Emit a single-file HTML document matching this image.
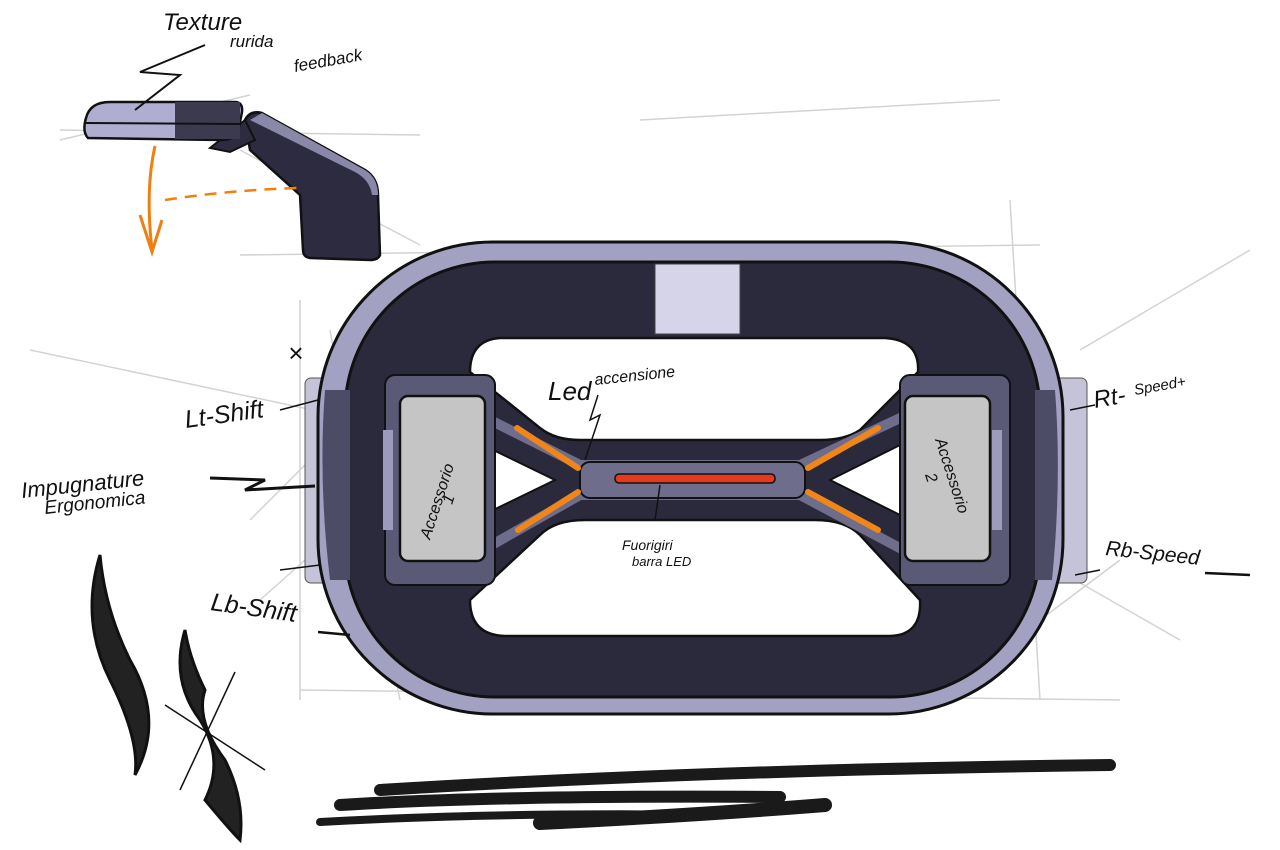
<!DOCTYPE html>
<html><head><meta charset="utf-8"><style>
html,body{margin:0;padding:0;background:#fff;}
svg{display:block}
text{font-family:"Liberation Sans",sans-serif;fill:#111;font-style:italic}
</style></head><body>
<svg width="1280" height="850" viewBox="0 0 1280 850" xmlns="http://www.w3.org/2000/svg">
<rect width="1280" height="850" fill="#fff"/>
<g stroke="#c8c8c8" stroke-width="1.5" fill="none" opacity="0.8">
<path d="M60 130 L420 135"/><path d="M60 140 L250 95"/><path d="M240 150 L420 245"/>
<path d="M240 255 L1040 245"/><path d="M300 690 L1120 700"/><path d="M1010 200 L1040 700"/>
<path d="M330 330 L400 700"/><path d="M30 350 L360 420"/><path d="M1080 350 L1250 250"/>
<path d="M250 520 L340 430"/><path d="M260 600 L350 520"/><path d="M1040 560 L1180 640"/>
<path d="M1040 620 L1120 560"/><path d="M640 120 L1000 100"/><path d="M300 300 L300 700"/>
</g>
<path d="M245 120 Q250 110 262 113 L365 170 Q378 178 378 195 L380 255 Q378 260 370 260 L310 258 Q303 257 303 250 L300 195 L250 150 Z" fill="#2c2b40" stroke="#111" stroke-width="2.5"/>
<path d="M262 113 L365 170 Q378 178 378 195 L372 195 Q370 180 355 172 L250 120 Z" fill="#8a88a8"/>
<path d="M210 148 L245 120 L255 140 L230 152 Z" fill="#2c2b40" stroke="#111" stroke-width="2"/>
<path d="M86 118 Q90 102 110 102 L236 102 Q243 103 242 112 L238 132 Q233 140 222 140 L88 138 Q82 132 86 118 Z" fill="#b0aed0" stroke="#111" stroke-width="2.5"/>
<rect x="175" y="102" width="65" height="37" fill="#3b3a4e"/>
<path d="M86 123 L240 124" stroke="#111" stroke-width="2"/>
<path d="M155 146 Q145 190 152 250" stroke="#f07f10" stroke-width="3" fill="none"/>
<path d="M140 215 L152 252 L162 220" stroke="#f07f10" stroke-width="3" fill="none"/>
<path d="M165 200 Q230 190 298 188" stroke="#f07f10" stroke-width="2.5" stroke-dasharray="12 8" fill="none"/>
<path d="M135 110 L180 75 L140 72 L205 45" stroke="#111" stroke-width="2" fill="none"/>
<text x="163" y="30" font-size="24">Texture</text>
<text x="230" y="47" font-size="17">rurida</text>
<text x="295" y="72" font-size="17" transform="rotate(-10 295 72)">feedback</text>
<rect x="305" y="378" width="42" height="205" rx="6" fill="#c4c3d8" stroke="#555" stroke-width="1"/>
<rect x="1045" y="378" width="42" height="205" rx="6" fill="#c4c3d8" stroke="#555" stroke-width="1"/>
<rect x="318" y="242" width="745" height="472" rx="175" fill="#a3a1c1" stroke="#111" stroke-width="3"/>
<rect x="345" y="262" width="695" height="435" rx="150" fill="#2b2a3d" stroke="#111" stroke-width="3"/>
<path d="M325 390 Q318 480 330 580 L350 580 L350 390 Z" fill="#4d4c66"/>
<path d="M1055 390 Q1062 480 1052 580 L1035 580 L1035 390 Z" fill="#4d4c66"/>
<rect x="655" y="264" width="85" height="70" fill="#d5d4e8" stroke="#444" stroke-width="1"/>
<path d="M470 372 Q470 340 500 338 L885 338 Q920 340 918 372 L860 430 Q845 440 820 440 L580 440 Q555 440 540 428 Z" fill="#fff" stroke="#111" stroke-width="2.5"/>
<path d="M470 600 Q470 635 505 636 L890 636 Q922 635 920 600 L860 535 Q845 520 815 520 L585 520 Q555 520 540 535 Z" fill="#fff" stroke="#111" stroke-width="2.5"/>
<path d="M483 445 L555 480 L483 515 Z" fill="#fff" stroke="#111" stroke-width="2"/>
<path d="M900 445 L830 480 L900 515 Z" fill="#fff" stroke="#111" stroke-width="2"/>
<g stroke="#6e6d8c" stroke-width="10" fill="none" stroke-linecap="round">
<path d="M430 390 L580 465 L800 465 L960 390"/>
<path d="M430 580 L580 495 L800 495 L960 580"/>
</g>
<rect x="580" y="462" width="225" height="36" rx="10" fill="#6e6d8c" stroke="#111" stroke-width="2"/>
<rect x="615" y="474" width="160" height="9" rx="4" fill="#e63a1e" stroke="#111" stroke-width="1.5"/>
<g stroke="#f0861a" stroke-width="6" stroke-linecap="round">
<path d="M517 428 L578 468"/><path d="M518 530 L578 492"/>
<path d="M878 428 L808 468"/><path d="M878 530 L808 492"/>
</g>
<rect x="385" y="375" width="110" height="210" rx="10" fill="#5b5a76" stroke="#111" stroke-width="2"/>
<rect x="900" y="375" width="110" height="210" rx="10" fill="#5b5a76" stroke="#111" stroke-width="2"/>
<rect x="400" y="396" width="85" height="165" rx="8" fill="#c5c5c5" stroke="#111" stroke-width="2.5"/>
<rect x="905" y="396" width="85" height="165" rx="8" fill="#c5c5c5" stroke="#111" stroke-width="2.5"/>
<rect x="383" y="430" width="10" height="100" fill="#9d9bbb"/>
<rect x="992" y="430" width="10" height="100" fill="#9d9bbb"/>
<text x="0" y="0" font-size="16" transform="translate(430 540) rotate(-72)">Accessorio</text>
<text x="0" y="0" font-size="16" transform="translate(452 505) rotate(-72)">1</text>
<text x="0" y="0" font-size="16" transform="translate(935 440) rotate(72)">Accessorio</text>
<text x="0" y="0" font-size="16" transform="translate(925 475) rotate(72)">2</text>
<text x="548" y="400" font-size="26">Led</text>
<text x="595" y="385" font-size="16" transform="rotate(-6 595 385)">accensione</text>
<path d="M598 395 L590 420 L600 415 L585 460" stroke="#111" stroke-width="1.5" fill="none"/>
<path d="M660 485 L655 520" stroke="#111" stroke-width="1.5"/>
<text x="622" y="550" font-size="14">Fuorigiri</text>
<text x="632" y="566" font-size="13">barra LED</text>
<text x="186" y="428" font-size="25" transform="rotate(-8 186 428)">Lt-Shift</text>
<text x="288" y="362" font-size="26">×</text>
<path d="M280 410 L318 400" stroke="#111" stroke-width="1.5"/>
<text x="22" y="498" font-size="22" transform="rotate(-6 22 498)">Impugnature</text>
<text x="45" y="514" font-size="19" transform="rotate(-6 45 514)">Ergonomica</text>
<path d="M210 478 L265 480 L245 490 L315 486" stroke="#111" stroke-width="3" fill="none"/>
<text x="210" y="610" font-size="25" transform="rotate(8 210 610)">Lb-Shift</text>
<path d="M318 632 L350 635" stroke="#111" stroke-width="2.5"/>
<path d="M280 570 L320 565" stroke="#111" stroke-width="1.5"/>
<text x="1095" y="408" font-size="24" transform="rotate(-10 1095 408)">Rt-</text>
<text x="1135" y="395" font-size="15" transform="rotate(-10 1135 395)">Speed+</text>
<path d="M1070 410 L1095 405" stroke="#111" stroke-width="1.5"/>
<text x="1105" y="555" font-size="21" transform="rotate(6 1105 555)">Rb-Speed</text>
<path d="M1205 573 L1250 575" stroke="#111" stroke-width="2.5"/>
<path d="M1075 575 L1100 570" stroke="#111" stroke-width="1.5"/>
<g stroke="#1a1a1a" stroke-linecap="round" fill="none">
<path d="M380 790 Q700 770 1110 765" stroke-width="12"/>
<path d="M340 805 Q500 795 780 797" stroke-width="12"/>
<path d="M320 822 Q500 812 720 815" stroke-width="8"/>
<path d="M540 823 Q700 815 825 805" stroke-width="14"/>
</g>
<path d="M100 555 Q80 620 110 680 Q140 740 135 775 Q165 720 130 660 Q105 610 100 555 Z" fill="#222" stroke="#111" stroke-width="3"/>
<path d="M185 630 Q170 680 200 720 Q225 760 205 800 Q230 830 240 840 Q245 800 225 760 Q195 720 205 690 Q190 660 185 630 Z" fill="#222" stroke="#111" stroke-width="3"/>
<path d="M165 705 L265 770" stroke="#111" stroke-width="1.5"/>
<path d="M235 672 L180 790" stroke="#111" stroke-width="1.5"/>
</svg>
</body></html>
